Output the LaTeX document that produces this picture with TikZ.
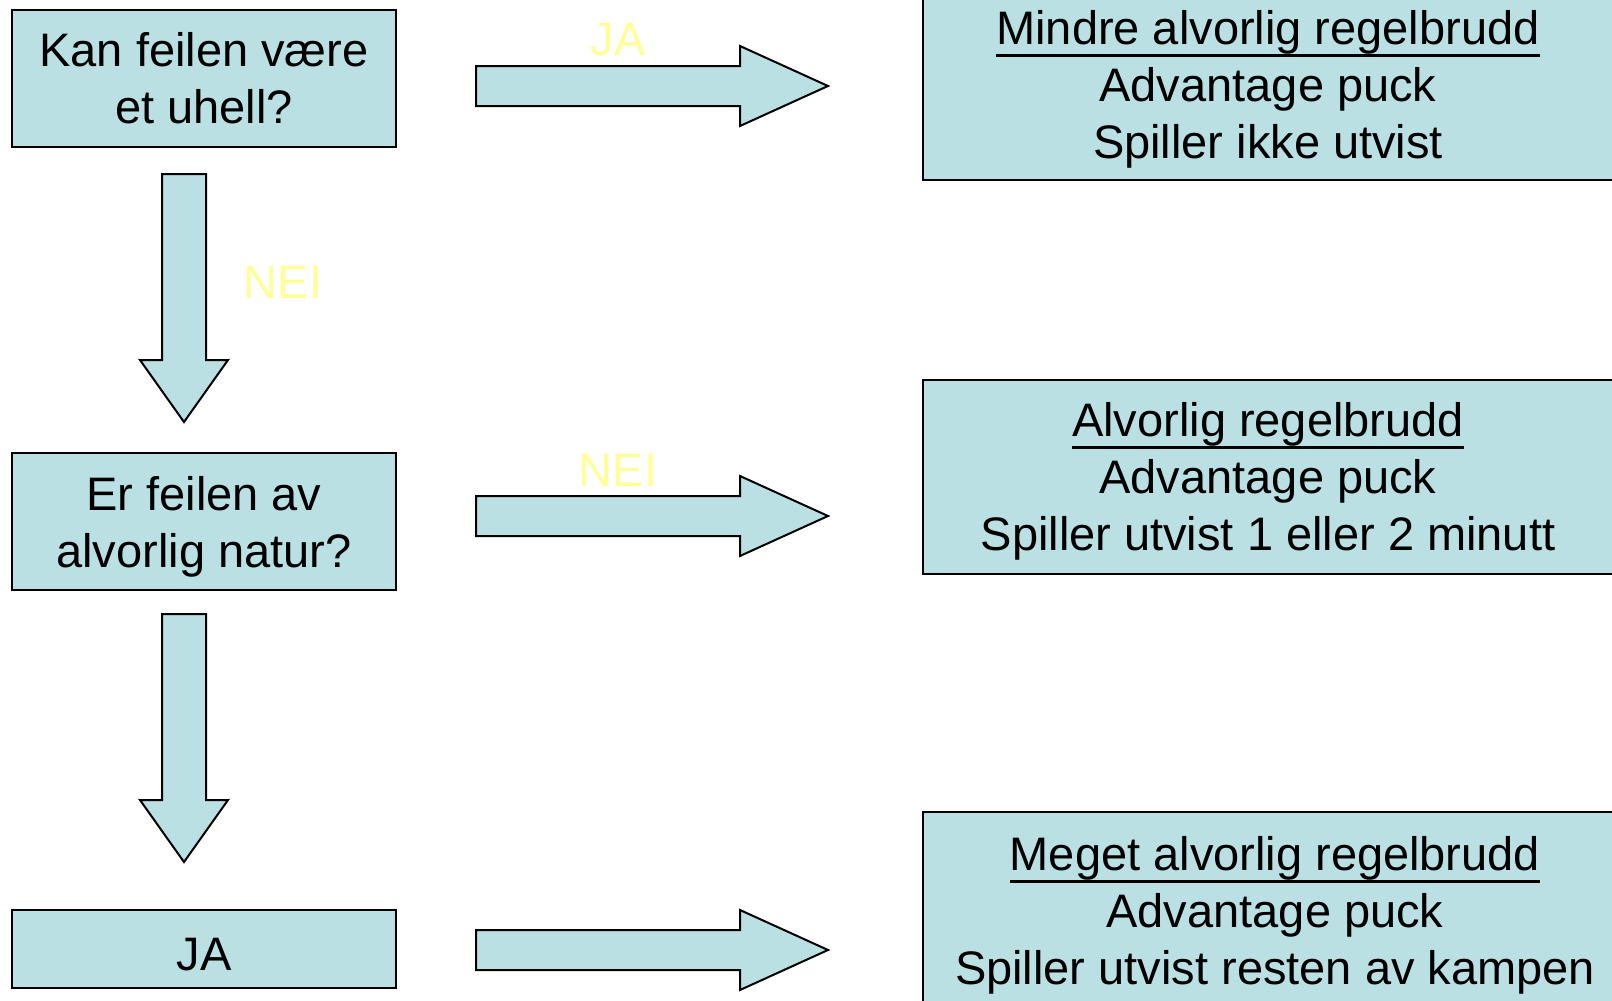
\documentclass[tikz,border=0pt]{standalone}
\usepackage{fontspec}
\setmainfont{Liberation Sans}
\definecolor{hkfill}{RGB}{187,224,227}
\definecolor{hkyellow}{RGB}{255,255,153}
\tikzset{
  hkbox/.style={rectangle, draw=black, line width=2pt, fill=hkfill, align=center, inner sep=0pt, font=\fontsize{47}{57}\selectfont},
  hkblock/.style={draw=black, line width=2pt, fill=hkfill, line join=miter},
  hklabel/.style={text=hkyellow, inner sep=0pt, font=\fontsize{47}{57}\selectfont},
}
% Thick underline and a strut that lowers the text a little.
\newcommand{\hkul}[1]{\setbox0\hbox{#1}\rlap{\rule[-12pt]{\wd0}{3pt}}\box0}
\newcommand{\hklow}[1]{\rule{0pt}{#1pt}}
% Block arrows, drawn from the tail centre.
\newcommand{\hkright}[1]{\draw[hkblock] (#1) ++(0,-20) -- ++(264,0) -- ++(0,-20) -- ++(88,40) -- ++(-88,40) -- ++(0,-20) -- ++(-264,0) -- cycle;}
\newcommand{\hkdown}[1]{\draw[hkblock] (#1) ++(-22,0) -- ++(0,186) -- ++(-22,0) -- ++(44,62) -- ++(44,-62) -- ++(-22,0) -- ++(0,-186) -- cycle;}

\begin{document}
\begin{tikzpicture}[x=1pt, y=-1pt]
  \useasboundingbox (0,0) rectangle (1612,1001);
  \clip (0,0) rectangle (1612,1001);

  % Questions (left column).
  \node[hkbox, minimum width=384, minimum height=137] (q1) at (204,78.5) {Kan feilen være\\et uhell?};
  \node[hkbox, minimum width=384, minimum height=137] (q2) at (204,521.5) {\hklow{45}Er feilen av\\alvorlig natur?};
  \node[hkbox, minimum width=384, minimum height=78] (ans) at (204,949) {\hklow{43}JA};

  % Outcomes (right column, cut by the page edge).
  \node[hkbox, minimum width=690, minimum height=190] (res1) at (1268,85)
    {\hklow{43}\hkul{Mindre alvorlig regelbrudd}\\Advantage puck\\Spiller ikke utvist};
  \node[hkbox, minimum width=690, minimum height=194] (res2) at (1268,477)
    {\hklow{43}\hkul{Alvorlig regelbrudd}\\Advantage puck\\Spiller utvist 1 eller 2 minutt};
  \node[hkbox, minimum width=704, minimum height=198] (res3) at (1275,911)
    {\hklow{43}\hkul{Meget alvorlig regelbrudd}\\Advantage puck\\Spiller utvist resten av kampen};

  % Arrow tails.
  \coordinate (r1) at (476,86);
  \coordinate (r2) at (476,516);
  \coordinate (r3) at (476,950);
  \coordinate (d1) at (184,174);
  \coordinate (d2) at (184,614);

  \hkright{r1}
  \hkright{r2}
  \hkright{r3}
  \hkdown{d1}
  \hkdown{d2}

  % Answers.
  \node[hklabel] (lja) at (618,40) {JA};
  \node[hklabel] (lnei) at (618,470) {NEI};
  \node[hklabel] (lneiv) at (283,282) {NEI};
\end{tikzpicture}
\end{document}
